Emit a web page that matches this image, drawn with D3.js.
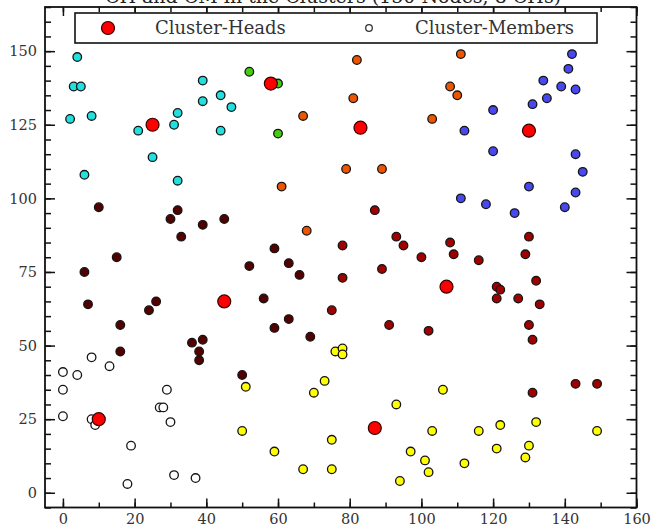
<!DOCTYPE html>
<html><head><meta charset="utf-8">
<script src="https://cdn.jsdelivr.net/npm/d3@7"></script>
<style>body{margin:0;background:#fff}svg{display:block}</style>
</head><body>
<svg id="c" width="652" height="529"></svg>
<script>
const xTicks=[0,20,40,60,80,100,120,140,160];
const yTicks=[0,25,50,75,100,125,150];
const headX=[25,58,83,130,45,107,10,87];
const headY=[125,139,124,123,65,70,25,22];
const cyanMembers=[[4,148],[3,138],[5,138],[2,127],[8,128],[6,108],[21,123],[25,114],[32,129],[31,125],[32,106],[39,140],[39,133],[44,135],[47,131],[44,123]];
const greenMembers=[[52,143],[60,139],[60,122]];
const orangeMembers=[[82,147],[81,134],[67,128],[103,127],[79,110],[89,110],[61,104],[111,149],[108,138],[110,135],[68,89]];
const blueMembers=[[142,149],[141,144],[134,140],[139,138],[143,137],[135,134],[131,132],[120,130],[112,123],[120,116],[143,115],[145,109],[130,104],[143,102],[111,100],[118,98],[126,95],[140,97]];
const maroonMembers=[[10,97],[32,96],[30,93],[39,91],[45,93],[33,87],[15,80],[6,75],[7,64],[26,65],[24,62],[16,57],[36,51],[39,52],[16,48],[38,48],[38,45],[59,83],[52,77],[63,78],[66,74],[56,66],[63,59],[59,56],[69,53],[50,40]];
const darkRedMembers=[[87,96],[78,84],[78,73],[75,62],[89,76],[91,57],[93,87],[95,84],[100,80],[102,55],[108,85],[109,81],[116,79],[121,70],[122,69],[121,66],[127,66],[129,81],[130,87],[132,72],[133,64],[130,57],[131,52],[131,34],[143,37],[149,37]];
const whiteMembers=[[8,46],[13,43],[0,41],[4,40],[0,35],[0,26],[8,25],[9,23],[29,35],[27,29],[28,29],[30,24],[19,16],[18,3],[31,6],[37,5]];
const yellowMembers=[[51,36],[50,21],[59,14],[67,8],[75,8],[75,18],[70,34],[73,38],[76,48],[78,49],[78,47],[93,30],[103,21],[97,14],[101,11],[102,7],[94,4],[106,35],[112,10],[116,21],[122,23],[121,15],[130,16],[129,12],[132,24],[149,21]];
const legendLabels=["Cluster-Heads","Cluster-Members"];
const titleText="CH and CM in the Clusters (150 Nodes, 8 CHs)";

const groups=[
  {pts:cyanMembers,fill:"#20e0e0"},
  {pts:greenMembers,fill:"#44cc11"},
  {pts:orangeMembers,fill:"#ee5500"},
  {pts:blueMembers,fill:"#4848f0"},
  {pts:maroonMembers,fill:"#520000"},
  {pts:darkRedMembers,fill:"#a00000"},
  {pts:whiteMembers,fill:"#ffffff"},
  {pts:yellowMembers,fill:"#ffff00"}
];

const svg=d3.select("#c");
const L=45,R=636.5,T=7,B=507.5;
const x=d3.scaleLinear().domain([-5,160]).range([L,R]);
const y=d3.scaleLinear().domain([-5,165]).range([B,T]);
const font="DejaVu Serif, serif";

svg.append("text").attr("x",333).attr("y",3).attr("text-anchor","middle")
  .attr("font-family",font).attr("font-size",19).attr("fill","#222").text(titleText);

const minorX=d3.range(0,161,10), minorY=d3.range(-5,166,5);
function axis(gen,tr,minor,major,ms,Ms,labels,pad){
  const gm=svg.append("g").attr("transform",tr).call(gen.tickValues(minor).tickSize(ms).tickFormat(""));
  gm.select(".domain").remove();
  const g=svg.append("g").attr("transform",tr).call(gen.tickValues(major).tickSize(Ms).tickPadding(pad).tickFormat(labels?d3.format("d"):""));
  g.select(".domain").remove();
  [gm,g].forEach(s=>s.selectAll("line").attr("stroke","#111").attr("stroke-width",1.5));
  g.selectAll("text").attr("font-family",font).attr("font-size",14.5).attr("fill","#333");
  return g;
}
axis(d3.axisBottom(x),`translate(0,${B})`,minorX,xTicks,-5,-9,true,6);
axis(d3.axisTop(x),`translate(0,${T})`,minorX,xTicks,-5,-9,false,6);
axis(d3.axisLeft(y),`translate(${L},0)`,minorY,yTicks,-6,-10,true,8);
axis(d3.axisRight(y),`translate(${R},0)`,minorY,yTicks,-6,-10,false,8);

const plot=svg.append("g");
groups.forEach(gp=>{
  plot.selectAll(null).data(gp.pts).enter().append("circle")
    .attr("cx",d=>x(d[0])).attr("cy",d=>y(d[1])).attr("r",4.3)
    .attr("fill",gp.fill).attr("stroke","#151515").attr("stroke-width",1.3);
});
plot.selectAll(null).data(headX.map((v,i)=>[v,headY[i]])).enter().append("circle")
  .attr("cx",d=>x(d[0])).attr("cy",d=>y(d[1])).attr("r",6.5)
  .attr("fill","#ff0000").attr("stroke","#300").attr("stroke-width",1.2);

svg.append("rect").attr("x",L).attr("y",T).attr("width",R-L).attr("height",B-T)
  .attr("fill","none").attr("stroke","#111").attr("stroke-width",1.8);

// legend
const lg=svg.append("g");
lg.append("rect").attr("x",75).attr("y",13).attr("width",522).attr("height",30)
  .attr("fill","#fff").attr("stroke","#111").attr("stroke-width",1.6);
lg.append("circle").attr("cx",108).attr("cy",28).attr("r",6.5).attr("fill","#ff0000").attr("stroke","#300").attr("stroke-width",1.2);
lg.append("circle").attr("cx",369).attr("cy",28).attr("r",3.3).attr("fill","#fff").attr("stroke","#333").attr("stroke-width",1.3);
lg.append("text").attr("x",155).attr("y",34).attr("font-family",font).attr("font-size",18).attr("fill","#333").text(legendLabels[0]);
lg.append("text").attr("x",415).attr("y",34).attr("font-family",font).attr("font-size",18).attr("fill","#333").text(legendLabels[1]);
</script>
</body></html>
